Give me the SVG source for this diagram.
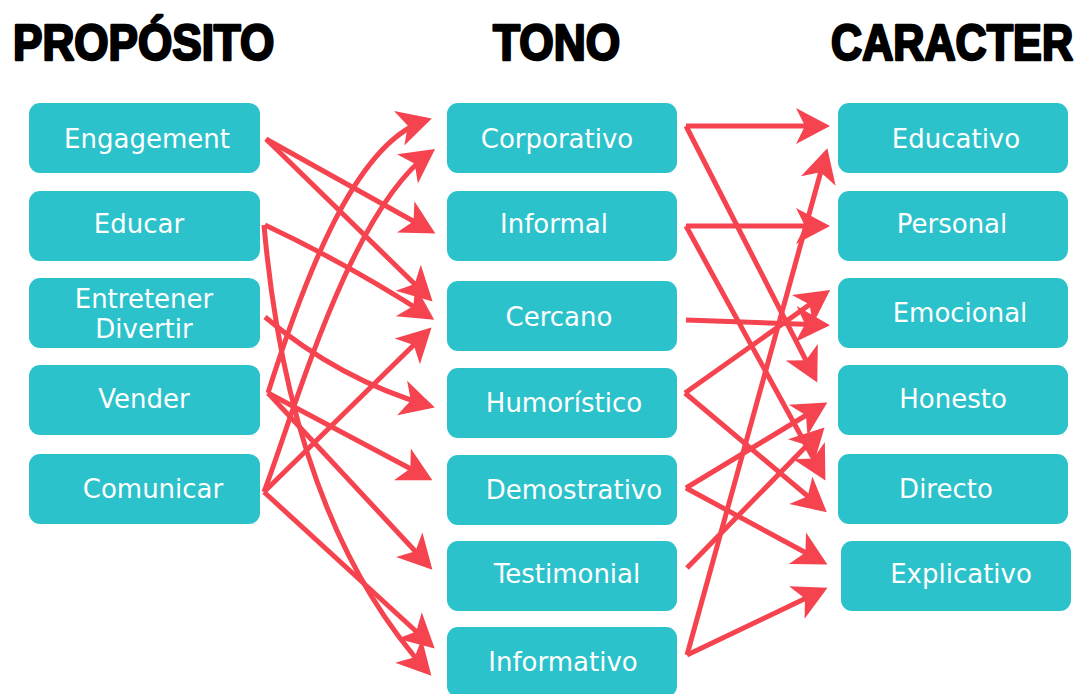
<svg xmlns="http://www.w3.org/2000/svg" width="1083" height="694" viewBox="0 0 1083 694">
<style>
.box{fill:#2cc2cb}
.lbl{font-family:"DejaVu Sans",sans-serif;font-size:26px;fill:#ffffff;text-anchor:middle}
.hdr{font-family:"Liberation Sans",Arial,sans-serif;font-weight:bold;font-size:50px;fill:#000;stroke:#000;stroke-width:2.5px;stroke-linejoin:round}
.ar{fill:none;stroke:#f5444f;stroke-width:5;marker-end:url(#ah)}
</style>
<defs>
<marker id="ah" markerUnits="userSpaceOnUse" viewBox="-32 -20 40 40" markerWidth="40" markerHeight="40" refX="0" refY="0" orient="auto" overflow="visible">
<path d="M5,0 L-29,-18 L-20,0 L-29,18 Z" fill="#f5444f"/>
</marker>
</defs>
<rect width="1083" height="694" fill="#ffffff"/>
<g id="headers">
<text class="hdr" transform="translate(13,60) scale(0.882,1)">PROPÓSITO</text>
<text class="hdr" transform="translate(493,60) scale(0.886,1)">TONO</text>
<text class="hdr" transform="translate(831,60) scale(0.863,1)">CARACTER</text>
</g>
<g id="connectors">
<path class="ar" d="M266,139 L431,231"/>
<path class="ar" d="M266,139 L429,298"/>
<path class="ar" d="M265,225 Q350,265 430,317"/>
<path class="ar" d="M264,225 Q290,520 428,672"/>
<path class="ar" d="M265,317 Q340,380 430,406"/>
<path class="ar" d="M268,393 C310,260 360,140 427,120"/>
<path class="ar" d="M264,492 C295,410 350,210 431,152"/>
<path class="ar" d="M264,492 L428,331"/>
<path class="ar" d="M264,492 L431,645"/>
<path class="ar" d="M268,393 L428,478"/>
<path class="ar" d="M268,393 L429,566"/>
<path class="ar" d="M686,126 L825,126"/>
<path class="ar" d="M686,126 L815,378"/>
<path class="ar" d="M686,226 L825,226"/>
<path class="ar" d="M686,226 L823,476"/>
<path class="ar" d="M686,320 L825,325"/>
<path class="ar" d="M685,393 L826,293"/>
<path class="ar" d="M685,393 L823,509"/>
<path class="ar" d="M686,488 L823,405"/>
<path class="ar" d="M686,488 L823,562"/>
<path class="ar" d="M687,568 L821,431"/>
<path class="ar" d="M687,655 L826,153"/>
<path class="ar" d="M687,655 L823,590"/>
</g>
<g id="n-engagement"><rect class="box" x="29" y="103" width="231" height="70" rx="11"/><text class="lbl" x="147" y="148">Engagement</text></g>
<g id="n-educar"><rect class="box" x="29" y="191" width="231" height="70" rx="11"/><text class="lbl" x="139" y="233">Educar</text></g>
<g id="n-entretener"><rect class="box" x="29" y="278" width="231" height="70" rx="11"/><text class="lbl" x="144" y="308">Entretener</text><text class="lbl" x="144" y="338">Divertir</text></g>
<g id="n-vender"><rect class="box" x="29" y="365" width="231" height="70" rx="11"/><text class="lbl" x="144" y="408">Vender</text></g>
<g id="n-comunicar"><rect class="box" x="29" y="454" width="231" height="70" rx="11"/><text class="lbl" x="153" y="498">Comunicar</text></g>
<g id="n-corporativo"><rect class="box" x="447" y="103" width="230" height="70" rx="11"/><text class="lbl" x="557" y="148">Corporativo</text></g>
<g id="n-informal"><rect class="box" x="447" y="191" width="230" height="70" rx="11"/><text class="lbl" x="554" y="233">Informal</text></g>
<g id="n-cercano"><rect class="box" x="447" y="281" width="230" height="70" rx="11"/><text class="lbl" x="559" y="326">Cercano</text></g>
<g id="n-humoristico"><rect class="box" x="447" y="368" width="230" height="70" rx="11"/><text class="lbl" x="564" y="412">Humorístico</text></g>
<g id="n-demostrativo"><rect class="box" x="447" y="455" width="230" height="70" rx="11"/><text class="lbl" x="574" y="499">Demostrativo</text></g>
<g id="n-testimonial"><rect class="box" x="447" y="541" width="230" height="70" rx="11"/><text class="lbl" x="567" y="583">Testimonial</text></g>
<g id="n-informativo"><rect class="box" x="447" y="627" width="230" height="70" rx="11"/><text class="lbl" x="563" y="671">Informativo</text></g>
<g id="n-educativo"><rect class="box" x="838" y="103" width="230" height="70" rx="11"/><text class="lbl" x="956" y="148">Educativo</text></g>
<g id="n-personal"><rect class="box" x="838" y="191" width="230" height="70" rx="11"/><text class="lbl" x="952" y="233">Personal</text></g>
<g id="n-emocional"><rect class="box" x="838" y="278" width="230" height="70" rx="11"/><text class="lbl" x="960" y="322">Emocional</text></g>
<g id="n-honesto"><rect class="box" x="838" y="365" width="230" height="70" rx="11"/><text class="lbl" x="953" y="408">Honesto</text></g>
<g id="n-directo"><rect class="box" x="838" y="454" width="230" height="70" rx="11"/><text class="lbl" x="946" y="498">Directo</text></g>
<g id="n-explicativo"><rect class="box" x="841" y="541" width="230" height="70" rx="11"/><text class="lbl" x="961" y="583">Explicativo</text></g>
</svg>
